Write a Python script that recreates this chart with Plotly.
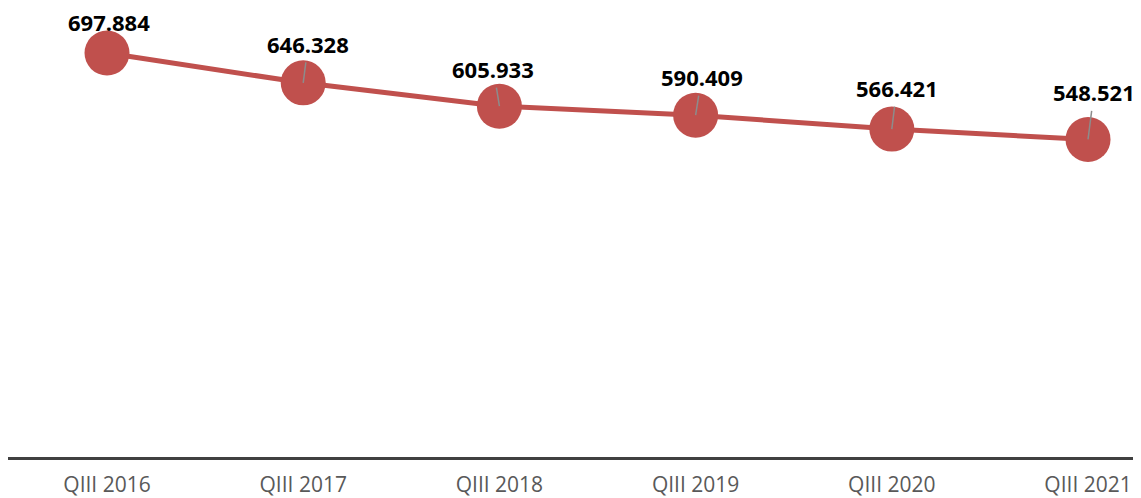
import plotly.graph_objects as go

# ── data ────────────────────────────────────────────────────────────────
quarters = ["QIII 2016", "QIII 2017", "QIII 2018", "QIII 2019", "QIII 2020", "QIII 2021"]
values = [697.884, 646.328, 605.933, 590.409, 566.421, 548.521]
value_labels = ["697.884", "646.328", "605.933", "590.409", "566.421", "548.521"]

# label offsets from marker centre (px)
label_dx = [2, 5, -6, 6, 5, 6]
label_dy = [-31, -39, -37, -38, -41, -47]

RED = "#C0504D"

fig = go.Figure()

fig.add_trace(go.Scatter(
    x=quarters, y=values,
    mode="lines+markers",
    line=dict(color=RED, width=5),
    marker=dict(color=RED, size=45, line=dict(width=0)),
    cliponaxis=False,
    hoverinfo="x+y",
))

for i, (q, v, txt) in enumerate(zip(quarters, values, value_labels)):
    fig.add_annotation(
        x=q, y=v, text=f"<b>{txt}</b>",
        showarrow=(i > 0),
        arrowhead=0, arrowwidth=1.5, arrowcolor="#8C8C8C",
        ax=label_dx[i], ay=label_dy[i],
        xshift=0 if i > 0 else label_dx[i],
        yshift=0 if i > 0 else -label_dy[i],
        font=dict(family="Open Sans, sans-serif", size=22, color="#000000"),
        borderpad=3,
    )

# page body has an 8px margin, so the figure is sized to fill the rest
fig.update_layout(
    width=1133, height=490,
    margin=dict(l=0, r=0, t=0, b=41),
    paper_bgcolor="white",
    plot_bgcolor="white",
    showlegend=False,
    xaxis=dict(
        type="category",
        range=[-0.5046, 5.27],
        automargin=False,
        showgrid=False, zeroline=False,
        showline=True, linecolor="#404040", linewidth=3,
        ticks="", ticklabelstandoff=7,
        tickfont=dict(family="Open Sans, sans-serif", size=21, color="#595959"),
    ),
    yaxis=dict(
        range=[0, 775.6],
        automargin=False,
        visible=False, showgrid=False, zeroline=False,
    ),
)

fig.write_html("out.html")
